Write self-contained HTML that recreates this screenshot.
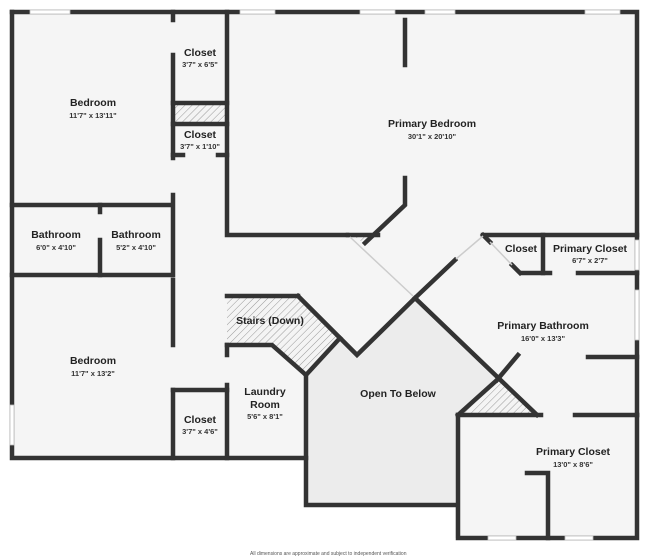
<!DOCTYPE html><html><head><style>body{margin:0;background:#fff}svg{display:block}
.n{font:bold 10.5px "Liberation Sans",sans-serif;fill:#222;text-anchor:middle}
.d{font:bold 7.5px "Liberation Sans",sans-serif;fill:#333;text-anchor:middle}</style></head><body>
<svg width="650" height="560" viewBox="0 0 650 560" xmlns="http://www.w3.org/2000/svg">
<defs><pattern id="h" width="5" height="5" patternUnits="userSpaceOnUse" patternTransform="rotate(45)"><rect width="5" height="5" fill="#f4f4f4"/><line x1="0" y1="0" x2="0" y2="5" stroke="#999" stroke-width="1"/></pattern></defs>
<g fill="#f5f5f5">
<rect x="12" y="12" width="625" height="446"/>
<rect x="455" y="415" width="182" height="123"/>
<rect x="306" y="458" width="150" height="47"/>
</g>
<polygon points="306,375 340,338 357,356 415,298 497,380 458,415 455,505 306,505" fill="#ececec"/>
<polygon points="227,296 298,296 340,338 306,375 275,345 227,345" fill="url(#h)"/>
<polygon points="458,415 537,415 497,380" fill="url(#h)"/>
<rect x="175" y="105" width="52" height="18" fill="url(#h)"/>
<polygon points="355,237 378,237 368,246" fill="url(#h)"/>
<g fill="none" stroke="#333" stroke-width="4.5" stroke-linecap="square">
<polyline points="12,12 637,12 637,415"/>
<polyline points="12,12 12,458 306,458"/>
<line x1="12" y1="205" x2="172" y2="205"/>
<line x1="12" y1="275" x2="172" y2="275"/>
<line x1="173" y1="12" x2="173" y2="20"/><line x1="173" y1="55" x2="173" y2="158"/><line x1="173" y1="195" x2="173" y2="275"/>
<line x1="173" y1="280" x2="173" y2="345"/>
<line x1="173" y1="390" x2="173" y2="458"/>
<line x1="100" y1="205" x2="100" y2="212"/><line x1="100" y1="240" x2="100" y2="275"/>
<line x1="173" y1="103" x2="227" y2="103"/><line x1="173" y1="124" x2="227" y2="124"/>
<line x1="173" y1="155" x2="183" y2="155"/><line x1="218" y1="155" x2="227" y2="155"/>
<polyline points="227,12 227,235 347,235"/>
<line x1="405" y1="20" x2="405" y2="65"/>
<polyline points="405,178 405,205 365,243"/>
<line x1="348" y1="235" x2="378" y2="235"/>
<polyline points="483,235 637,235"/>
<line x1="543" y1="235" x2="543" y2="273"/>
<line x1="522" y1="273" x2="550" y2="273"/><line x1="578" y1="273" x2="637" y2="273"/>
<polyline points="483,235 490,242"/>
<polyline points="512,265 520,273"/>
<polyline points="415,298 455,260"/>
<polyline points="298,296 357,355 415,298 537,415"/>
<polyline points="497,380 518,355"/>
<line x1="588" y1="357" x2="637" y2="357"/>
<polyline points="227,296 298,296"/>
<polyline points="227,345 272,345 306,375 306,505 455,505"/>
<line x1="306" y1="375" x2="340" y2="338"/>
<line x1="227" y1="345" x2="227" y2="355"/><line x1="227" y1="385" x2="227" y2="458"/>
<line x1="173" y1="390" x2="227" y2="390"/>
<polyline points="458,415 497,380"/>
<polyline points="458,415 541,415"/><line x1="575" y1="415" x2="637" y2="415"/>
<polyline points="458,415 458,538 637,538 637,415"/>
<polyline points="527,473 548,473 548,538"/>
</g>
<g stroke="#ccc" stroke-width="1.5">
<line x1="350" y1="237" x2="413" y2="296"/>
<line x1="456" y1="259" x2="483" y2="236"/>
<line x1="490" y1="242" x2="512" y2="265"/>
</g>
<g fill="#fff" stroke="#bbb" stroke-width="0.8">
<rect x="30" y="10" width="40" height="4"/><rect x="240" y="10" width="35" height="4"/>
<rect x="360" y="10" width="35" height="4"/><rect x="425" y="10" width="30" height="4"/>
<rect x="585" y="10" width="35" height="4"/><rect x="10" y="405" width="4" height="40"/>
<rect x="635" y="240" width="4" height="30"/><rect x="635" y="290" width="4" height="50"/>
<rect x="488" y="536" width="28" height="4"/><rect x="565" y="536" width="28" height="4"/>
</g>
<text class="n" x="93" y="106">Bedroom</text><text class="d" x="93" y="118">11'7" x 13'11"</text>
<text class="n" x="200" y="56">Closet</text><text class="d" x="200" y="67">3'7" x 6'5"</text>
<text class="n" x="200" y="138">Closet</text><text class="d" x="200" y="149">3'7" x 1'10"</text>
<text class="n" x="56" y="238">Bathroom</text><text class="d" x="56" y="250">6'0" x 4'10"</text>
<text class="n" x="136" y="238">Bathroom</text><text class="d" x="136" y="250">5'2" x 4'10"</text>
<text class="n" x="93" y="364">Bedroom</text><text class="d" x="93" y="376">11'7" x 13'2"</text>
<text class="n" x="200" y="423">Closet</text><text class="d" x="200" y="434">3'7" x 4'6"</text>
<text class="n" x="432" y="127">Primary Bedroom</text><text class="d" x="432" y="139">30'1" x 20'10"</text>
<text class="n" x="521" y="252">Closet</text>
<text class="n" x="590" y="252">Primary Closet</text><text class="d" x="590" y="263">6'7" x 2'7"</text>
<text class="n" x="543" y="329">Primary Bathroom</text><text class="d" x="543" y="341">16'0" x 13'3"</text>
<text class="n" x="270" y="324">Stairs (Down)</text>
<text class="n" x="265" y="395">Laundry</text><text class="n" x="265" y="408">Room</text><text class="d" x="265" y="419">5'6" x 8'1"</text>
<text class="n" x="398" y="397">Open To Below</text>
<text class="n" x="573" y="455">Primary Closet</text><text class="d" x="573" y="467">13'0" x 8'6"</text>
<text x="250" y="555" style="font:5px 'Liberation Sans',sans-serif;fill:#555">All dimensions are approximate and subject to independent verification</text>
</svg></body></html>
